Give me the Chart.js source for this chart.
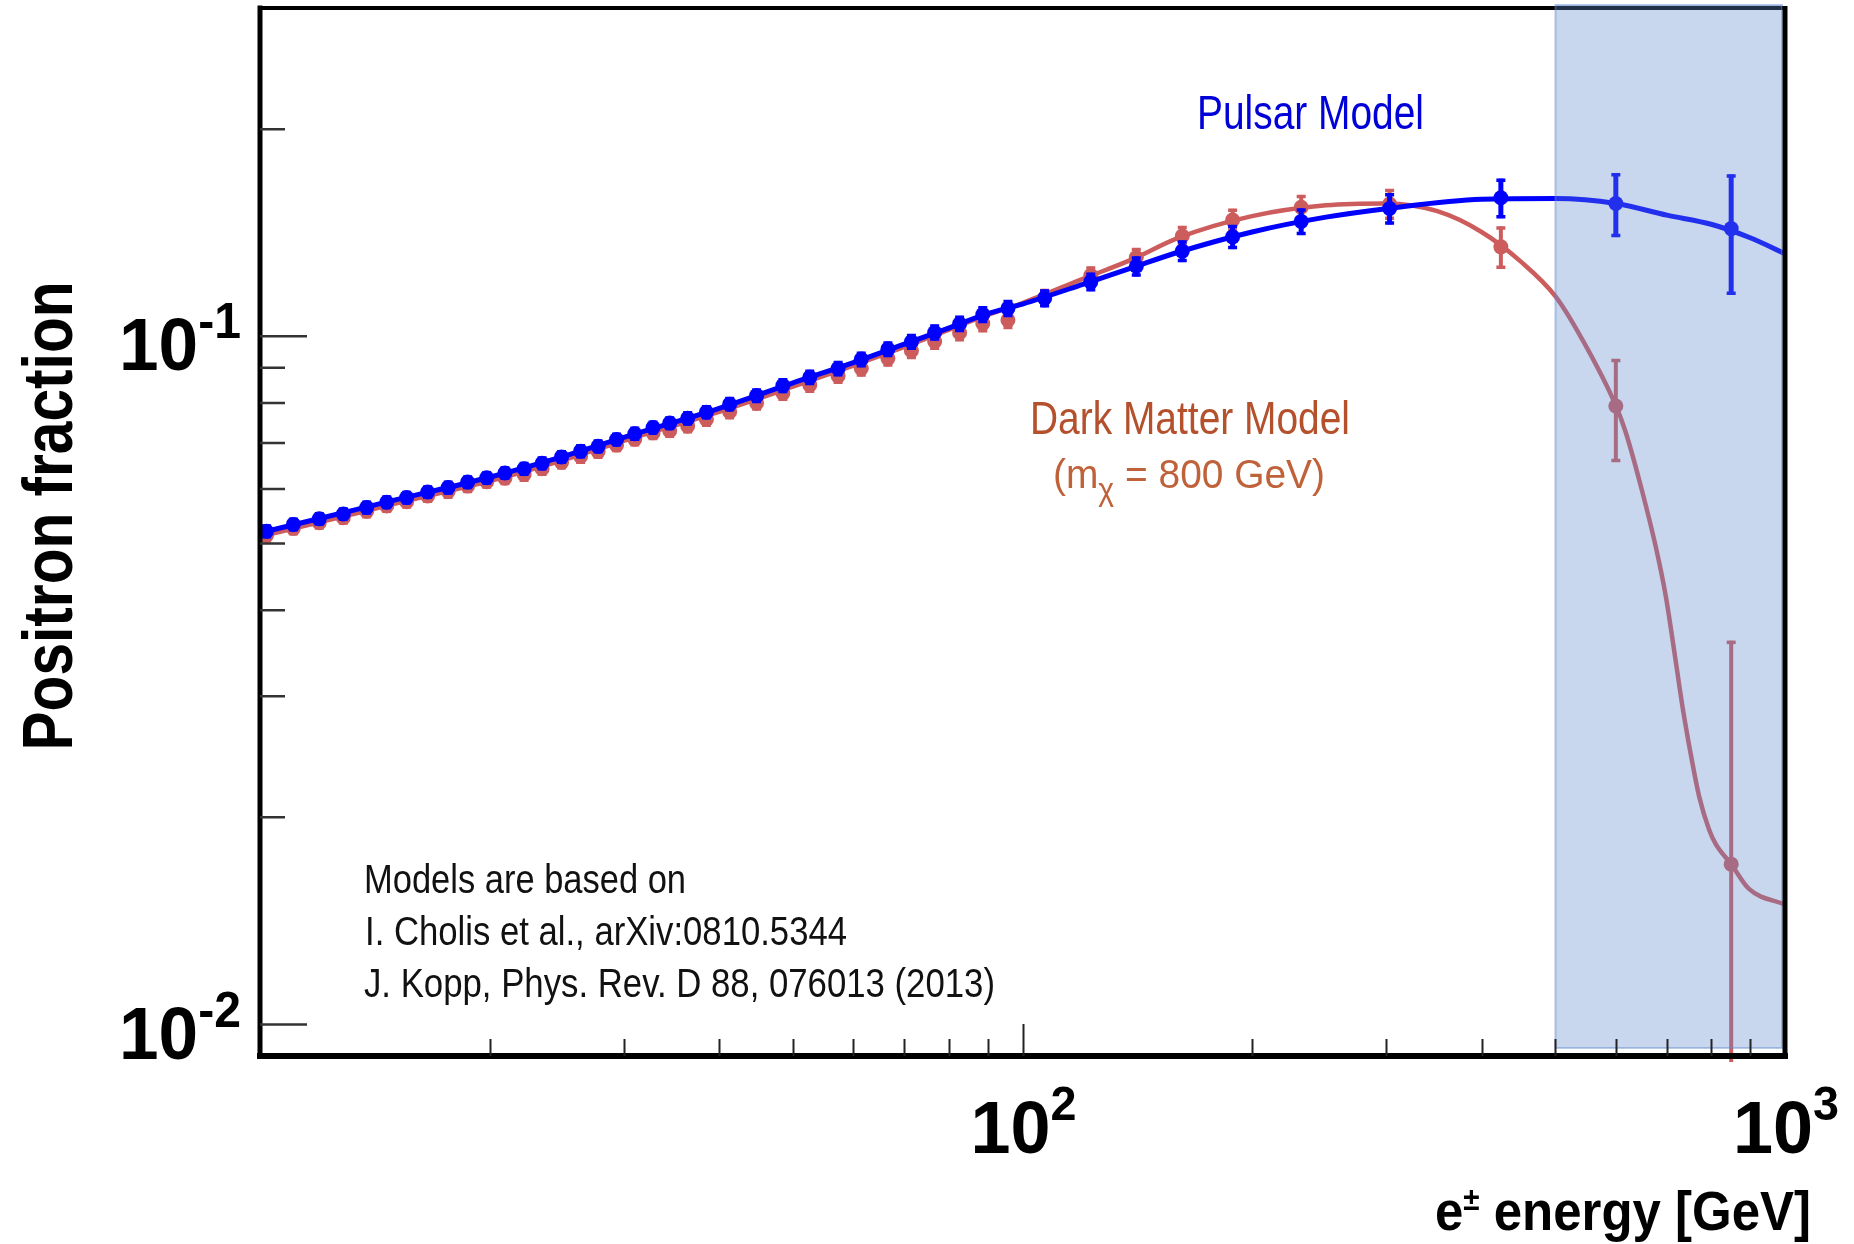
<!DOCTYPE html>
<html>
<head>
<meta charset="utf-8">
<title>Positron fraction: pulsar vs dark matter model</title>
<script src="https://cdn.jsdelivr.net/npm/chart.js@4.4.1/dist/chart.umd.min.js"></script>
<style>
  html, body { margin: 0; padding: 0; background: #ffffff; }
  #wrap { width: 1854px; height: 1244px; position: relative; }
  canvas { display: block; }
</style>
</head>
<body>
<div id="wrap"><canvas id="chart" width="1854" height="1244"></canvas></div>
<script>
// ---- Energy bins of the projected measurement (GeV) ----
const energies = [
  10.2, 11.06, 11.96, 12.86, 13.8, 14.66, 15.57, 16.59, 17.65, 18.72,
  19.83, 20.95, 22.2, 23.44, 24.86, 26.33, 27.76, 29.35, 31.01, 32.77,
  34.46, 36.38, 38.5, 41.3, 44.8, 48.5, 52.6, 57.3, 61.45, 66.6,
  71.5, 76.7, 82.7, 88.7, 95.7, 106.9, 122.9, 141, 162, 188.6,
  232, 303, 424, 600, 850
];

// ---- Pulsar model: simulated positron fraction and uncertainties ----
const pulsarValues = [
  0.0521, 0.0533, 0.0543, 0.0552, 0.0564, 0.0574, 0.0583, 0.0594, 0.0603, 0.0614,
  0.0623, 0.0633, 0.0642, 0.0654, 0.0668, 0.0681, 0.0692, 0.0708, 0.0722, 0.0737,
  0.0748, 0.0760, 0.0776, 0.0797, 0.0820, 0.0848, 0.0872, 0.0898, 0.0926, 0.0958,
  0.0982, 0.1013, 0.1043, 0.1076, 0.1098, 0.1136, 0.1200, 0.1264, 0.1330, 0.1395,
  0.1469, 0.1534, 0.1590, 0.1560, 0.1434
];
const pulsarErrors = [
  0.0012, 0.0012, 0.0012, 0.0012, 0.0013, 0.0013, 0.0013, 0.0013, 0.0014, 0.0014,
  0.0014, 0.0014, 0.0015, 0.0015, 0.0015, 0.0016, 0.0016, 0.0016, 0.0017, 0.0017,
  0.0017, 0.0018, 0.0018, 0.0019, 0.0020, 0.0021, 0.0022, 0.0023, 0.0024, 0.0025,
  0.0026, 0.0027, 0.0028, 0.0030, 0.0031, 0.0034, 0.0037, 0.0042, 0.0048, 0.0056,
  0.0065, 0.0080, 0.0105, 0.0166, 0.0285
];

// ---- Dark matter model (m_chi = 800 GeV): simulated fraction and uncertainties ----
const darkMatterValues = [
  0.0514, 0.0526, 0.0536, 0.0545, 0.0557, 0.0567, 0.0575, 0.0586, 0.0595, 0.0606,
  0.0615, 0.0622, 0.0630, 0.0642, 0.0656, 0.0669, 0.0680, 0.0695, 0.0709, 0.0724,
  0.0729, 0.0741, 0.0757, 0.0777, 0.0800, 0.0827, 0.0850, 0.0876, 0.0898, 0.0929,
  0.0953, 0.0983, 0.1012, 0.1044, 0.1056, 0.1138, 0.1226, 0.1302, 0.1399, 0.1476,
  0.1540, 0.1557, 0.1349, 0.0792, 0.0171
];
const darkMatterErrors = [
  0.0012, 0.0012, 0.0012, 0.0012, 0.0013, 0.0013, 0.0013, 0.0013, 0.0014, 0.0014,
  0.0014, 0.0014, 0.0015, 0.0015, 0.0015, 0.0016, 0.0016, 0.0016, 0.0017, 0.0017,
  0.0017, 0.0018, 0.0018, 0.0019, 0.0020, 0.0021, 0.0022, 0.0023, 0.0024, 0.0025,
  0.0026, 0.0027, 0.0028, 0.0030, 0.0031, 0.0034, 0.0037, 0.0042, 0.0048, 0.0056,
  0.0065, 0.0080, 0.0095, 0.0135, 0.0190
];

// ---- Model curves ----
const pulsarCurveEnergies = [
  10, 12, 15, 20, 25, 30, 40, 50, 60, 70, 80, 90, 100, 120, 140, 160,
  200, 250, 300, 400, 500, 600, 700, 800, 900, 1000
];
const pulsarCurve = [
  0.0518, 0.0544, 0.0578, 0.0624, 0.0669, 0.0713, 0.0786, 0.0856, 0.0916, 0.0974,
  0.1028, 0.1079, 0.1114, 0.1190, 0.1261, 0.1325, 0.1418, 0.1490, 0.1533, 0.1582,
  0.1586, 0.1560, 0.1500, 0.1455, 0.1391, 0.1319
];
const darkMatterCurveEnergies = [
  10, 12, 15, 20, 25, 30, 40, 50, 60, 70, 80, 90, 100, 120, 140, 160,
  200, 250, 300, 350, 400, 450, 500, 542, 600, 618, 650, 677, 698, 719,
  734, 756, 772, 795, 811, 850, 897, 1000
];
const darkMatterCurve = [
  0.0512, 0.0537, 0.0571, 0.0616, 0.0661, 0.0705, 0.0777, 0.0845, 0.0907, 0.0965,
  0.1022, 0.1074, 0.1118, 0.1212, 0.1297, 0.1390, 0.1495, 0.1550, 0.1560, 0.1520,
  0.1418, 0.1285, 0.1143, 0.0990, 0.0793, 0.0726, 0.0594, 0.0494, 0.0418, 0.0337,
  0.0289, 0.0240, 0.0214, 0.0192, 0.0183, 0.0171, 0.01574, 0.01494
];

// ---- Axes ----
const xRange = [10, 1000];
const yRange = [0.009, 0.3];
const xMajorTicks = [100];
const xMinorTicks = [20, 30, 40, 50, 60, 70, 80, 90, 200, 300, 400, 500, 600, 700, 800, 900];
const xTickLabels = [{ value: 100, base: '10', exp: '2' }, { value: 1000, base: '10', exp: '3' }];
const yMajorTicks = [0.01, 0.1];
const yMinorTicks = [0.02, 0.03, 0.04, 0.05, 0.06, 0.07, 0.08, 0.09, 0.2];
const yTickLabels = [{ value: 0.1, base: '10', exp: '-1' }, { value: 0.01, base: '10', exp: '-2' }];
const shadedEnergyRange = [500, 1000];

const FONT = '"Liberation Sans", Arial, Helvetica, sans-serif';
const BLUE = '#0000ff';
const RED = '#cd5c5c';

const toPoints = (xs, ys) => xs.map((x, i) => ({ x: x, y: ys[i] }));

// Draw a sequence of text runs squeezed/stretched horizontally to a given width
function drawRuns(ctx, runs, x, y, width, align, color) {
  ctx.save();
  ctx.fillStyle = color;
  ctx.textBaseline = 'alphabetic';
  ctx.textAlign = 'left';
  let total = 0;
  const widths = runs.map(r => { ctx.font = r.font; const w = ctx.measureText(r.text).width; total += w; return w; });
  const s = width / total;
  let x0 = x;
  if (align === 'right') x0 = x - width;
  else if (align === 'center') x0 = x - width / 2;
  ctx.translate(x0, y);
  ctx.scale(s, 1);
  let cx = 0;
  runs.forEach((r, i) => {
    ctx.font = r.font;
    ctx.fillText(r.text, cx, r.dy || 0);
    cx += widths[i];
  });
  ctx.restore();
}

// Error bars drawn right after each point dataset
const errorBarPlugin = {
  id: 'errorBars',
  afterDatasetDraw(chart, args) {
    const ds = chart.data.datasets[args.index];
    if (!ds.errors) return;
    const xs = chart.scales.x, ys = chart.scales.y;
    const c = chart.ctx;
    c.save();
    c.strokeStyle = ds.pointBackgroundColor;
    ds.data.forEach((p, i) => {
      const e = ds.errors[i];
      const px = xs.getPixelForValue(p.x);
      const top = ys.getPixelForValue(p.y + e);
      const lo = p.y - e;
      const clipped = !(lo > ys.min);
      const bot = clipped ? ys.bottom + 6 : ys.getPixelForValue(lo);
      c.lineWidth = ds.errWidth;
      c.beginPath();
      c.moveTo(px, top);
      c.lineTo(px, bot);
      c.stroke();
      c.lineWidth = 3.5;
      c.beginPath();
      c.moveTo(px - 4.5, top + 1.5);
      c.lineTo(px + 4.5, top + 1.5);
      if (!clipped) {
        c.moveTo(px - 4.5, bot - 1.5);
        c.lineTo(px + 4.5, bot - 1.5);
      }
      c.stroke();
    });
    c.restore();
  }
};

// Frame, shaded region, ticks, tick labels, titles and annotations
const decorPlugin = {
  id: 'decor',
  afterDatasetsDraw(chart) {
    const c = chart.ctx;
    const xs = chart.scales.x, ys = chart.scales.y;
    const L = xs.left, R = xs.right, T = ys.top, B = ys.bottom;

    // frame: top, left, bottom
    c.save();
    c.strokeStyle = '#000';
    c.lineCap = 'square';
    c.lineWidth = 4; c.beginPath(); c.moveTo(L, T); c.lineTo(R, T); c.stroke();
    c.lineWidth = 5; c.beginPath(); c.moveTo(L, T); c.lineTo(L, B); c.stroke();
    c.lineWidth = 6; c.beginPath(); c.moveTo(L, B); c.lineTo(R, B); c.stroke();
    c.restore();

    // shaded high-energy region
    const sx0 = xs.getPixelForValue(shadedEnergyRange[0]);
    const sx1 = Math.min(xs.getPixelForValue(shadedEnergyRange[1]), R) - 3;
    c.save();
    c.fillStyle = 'rgba(98, 138, 206, 0.35)';
    c.fillRect(sx0, T - 3, sx1 - sx0, (B - 8) - (T - 3));
    c.strokeStyle = 'rgba(98, 138, 206, 0.45)';
    c.lineWidth = 2;
    c.strokeRect(sx0, T - 3, sx1 - sx0, (B - 8) - (T - 3));
    c.restore();

    // right frame
    c.save();
    c.strokeStyle = '#000';
    c.lineWidth = 5;
    c.beginPath(); c.moveTo(R, T - 2); c.lineTo(R, B + 3); c.stroke();
    c.restore();

    // ticks (pointing inward)
    c.save();
    c.strokeStyle = '#222';
    c.lineWidth = 2;
    c.beginPath();
    xMajorTicks.forEach(v => { const px = Math.round(xs.getPixelForValue(v)) + 0.5; c.moveTo(px, B); c.lineTo(px, B - 32); });
    xMinorTicks.forEach(v => { const px = Math.round(xs.getPixelForValue(v)) + 0.5; c.moveTo(px, B); c.lineTo(px, B - 17); });
    c.stroke();
    c.lineWidth = 2.5;
    c.strokeStyle = '#333';
    c.beginPath();
    yMajorTicks.forEach(v => { const py = ys.getPixelForValue(v); c.moveTo(L, py); c.lineTo(L + 47, py); });
    yMinorTicks.forEach(v => { const py = ys.getPixelForValue(v); c.moveTo(L, py); c.lineTo(L + 25, py); });
    c.stroke();
    c.restore();

    // tick labels
    const bold = (px) => 'bold ' + px + 'px ' + FONT;
    yTickLabels.forEach(t => {
      const py = ys.getPixelForValue(t.value);
      drawRuns(c, [
        { text: t.base, font: bold(74), dy: 34 },
        { text: t.exp, font: bold(50), dy: 2 }
      ], 241, py, 122, 'right', '#000');
    });
    xTickLabels.forEach(t => {
      const px = xs.getPixelForValue(t.value);
      drawRuns(c, [
        { text: t.base, font: bold(74), dy: 0 },
        { text: t.exp, font: bold(48), dy: -33 }
      ], px + 1, B + 97, 106, 'center', '#000');
    });

    // axis titles
    c.save();
    c.translate(72, 516);
    c.rotate(-Math.PI / 2);
    drawRuns(c, [{ text: 'Positron fraction', font: bold(71) }], 0, 0, 469, 'center', '#000');
    c.restore();

    drawRuns(c, [
      { text: 'e', font: bold(55) },
      { text: '\u00B1', font: bold(32), dy: -20 },
      { text: ' energy [GeV]', font: bold(55) }
    ], 1811, 1230, 376, 'right', '#000');

    // model labels
    const reg = (px) => px + 'px ' + FONT;
    drawRuns(c, [{ text: 'Pulsar Model', font: reg(48) }], 1197, 129, 227, 'left', '#0000d8');
    drawRuns(c, [{ text: 'Dark Matter Model', font: reg(46) }], 1030, 434, 320, 'left', '#b4502c');
    drawRuns(c, [
      { text: '(m', font: reg(40) },
      { text: '\u03C7', font: reg(31), dy: 12 },
      { text: ' = 800 GeV)', font: reg(40) }
    ], 1053, 488, 272, 'left', '#bf623a');

    // references
    drawRuns(c, [{ text: 'Models are based on', font: reg(40) }], 364, 893, 322, 'left', '#111');
    drawRuns(c, [{ text: 'I. Cholis et al., arXiv:0810.5344', font: reg(40) }], 365, 945, 482, 'left', '#111');
    drawRuns(c, [{ text: 'J. Kopp, Phys. Rev. D 88, 076013 (2013)', font: reg(40) }], 364, 997, 631, 'left', '#111');
  }
};

new Chart(document.getElementById('chart'), {
  type: 'line',
  data: {
    datasets: [
      {
        label: 'Pulsar Model data',
        data: toPoints(energies, pulsarValues),
        errors: pulsarErrors,
        errWidth: 5,
        showLine: false,
        pointRadius: 7.5,
        pointBorderWidth: 0,
        pointBackgroundColor: BLUE,
        borderColor: BLUE,
        order: 0
      },
      {
        label: 'Pulsar Model',
        data: toPoints(pulsarCurveEnergies, pulsarCurve),
        borderColor: BLUE,
        borderWidth: 5,
        pointRadius: 0,
        cubicInterpolationMode: 'monotone',
        fill: false,
        order: 1
      },
      {
        label: 'Dark Matter Model data',
        data: toPoints(energies, darkMatterValues),
        errors: darkMatterErrors,
        errWidth: 4,
        showLine: false,
        pointRadius: 7.5,
        pointBorderWidth: 0,
        pointBackgroundColor: RED,
        borderColor: RED,
        order: 2
      },
      {
        label: 'Dark Matter Model',
        data: toPoints(darkMatterCurveEnergies, darkMatterCurve),
        borderColor: RED,
        borderWidth: 4.5,
        pointRadius: 0,
        cubicInterpolationMode: 'monotone',
        fill: false,
        order: 3
      }
    ]
  },
  options: {
    responsive: false,
    animation: false,
    devicePixelRatio: 1,
    layout: { padding: { left: 260, right: 69, top: 8, bottom: 188 } },
    scales: {
      x: { type: 'logarithmic', min: xRange[0], max: xRange[1], display: false },
      y: { type: 'logarithmic', min: yRange[0], max: yRange[1], display: false }
    },
    plugins: {
      legend: { display: false },
      tooltip: { enabled: false }
    }
  },
  plugins: [errorBarPlugin, decorPlugin]
});
</script>
</body>
</html>
